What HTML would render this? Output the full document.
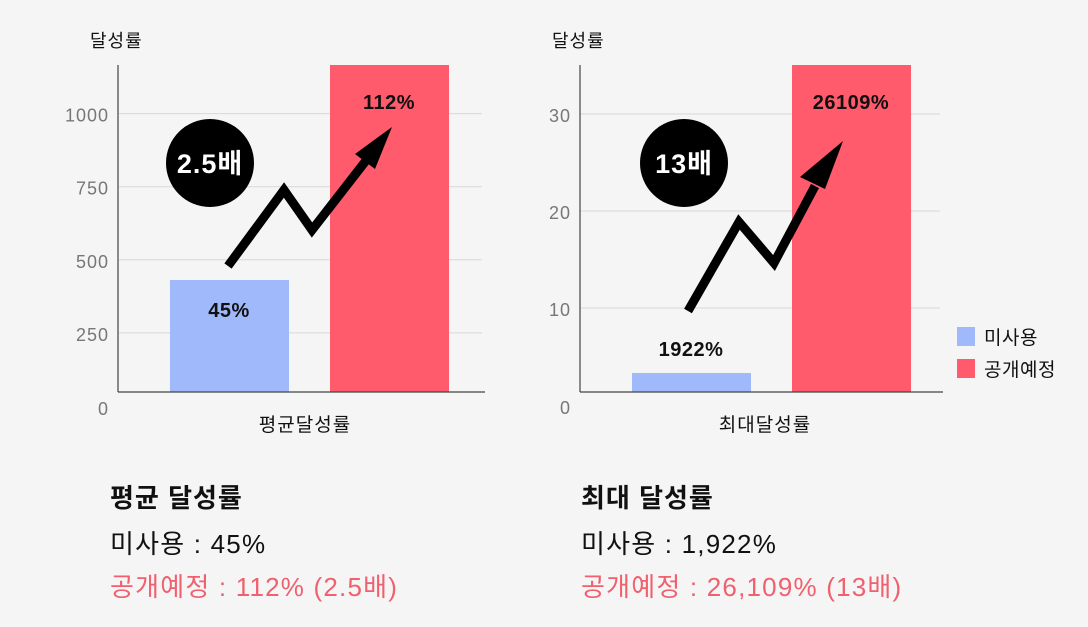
<!DOCTYPE html>
<html><head><meta charset="utf-8"><style>
body{margin:0;background:#f5f5f5;width:1088px;height:622px;overflow:hidden;font-family:"Liberation Sans","Noto Sans CJK KR",sans-serif;}
svg text{font-family:"Liberation Sans","Noto Sans CJK KR",sans-serif;}
</style></head><body>
<svg id="c" width="1088" height="622" xmlns="http://www.w3.org/2000/svg">
<rect width="1088" height="622" fill="#f5f5f5"/>
</svg>
<script>
const categories=["평균달성률","최대달성률"];
const seriesNames=["미사용","공개예정"];
const leftValues=[431,1200];
const rightValues=[3.3,40];
const leftTicks=[0,250,500,750,1000];
const rightTicks=[0,10,20,30];
const leftLabels=["45%","112%"];
const rightLabels=["1922%","26109%"];
const multipliers=["2.5배","13배"];
const NS="http://www.w3.org/2000/svg";
const svg=document.getElementById('c');
function mk(t,a,txt){const e=document.createElementNS(NS,t);for(const k in a)e.setAttribute(k,a[k]);if(txt!=null)e.textContent=txt;svg.appendChild(e);return e;}
const colors=["#a0b9fb","#ff5b6c"];
function panel(o){
  const y=v=>o.zeroY-v*o.k;
  const t=mk('text',{x:o.axisX-28,y:47,'font-size':18,'letter-spacing':1,fill:'#111'},'달성률');
  
  o.ticks.forEach(v=>{
    if(v>0){const g=mk('line',{x1:o.axisX,x2:o.right,y1:y(v),y2:y(v),stroke:'#d8d8d8','stroke-width':1});
    }
    const l=mk('text',{x:o.axisX-9,y:y(v)+8+(v===0?1:0),'text-anchor':'end','font-size':18,'letter-spacing':1,fill:'#777'},String(v));
    
  });
  o.values.forEach((v,i)=>{
    const top=Math.max(o.top,y(v));
    const b=mk('rect',{x:o.barX[i],y:top,width:119,height:o.base-top,fill:colors[i]});
    
  });
  mk('line',{x1:o.axisX,x2:o.axisX,y1:o.top,y2:o.base,stroke:'#444','stroke-width':1.2});
  mk('line',{x1:o.axisX,x2:o.right+3,y1:o.base,y2:o.base,stroke:'#444','stroke-width':1.2});
  o.labels.forEach((s,i)=>{
    const l=mk('text',{x:o.barX[i]+59,y:o.labelY[i],'text-anchor':'middle','font-size':20,'font-weight':'bold','letter-spacing':0.5,fill:'#111'},s);
    
  });
  const c=mk('text',{x:(o.axisX+o.right)/2+5,y:431,'text-anchor':'middle','font-size':19,'letter-spacing':1,fill:'#111'},o.cat);
  
  const ci=mk('circle',{cx:o.circ[0],cy:o.circ[1],r:44,fill:'#000'});
  
  mk('text',{x:o.circ[0],y:o.circ[1]+10,'text-anchor':'middle','font-size':27,'font-weight':'bold','letter-spacing':1,fill:'#fff'},o.mult);
  const p=mk('polyline',{points:o.arrow.map(q=>q.join(',')).join(' '),fill:'none',stroke:'#000','stroke-width':9,'stroke-linejoin':'miter'});
  
  mk('polygon',{points:o.head.map(q=>q.join(',')).join(' '),fill:'#000'});
}
panel({axisX:118,right:482,top:65,base:392,zeroY:406,k:0.2924,ticks:leftTicks,values:leftValues,barX:[170,330],labels:leftLabels,labelY:[317,109],cat:categories[0],circ:[210,163],mult:multipliers[0],
 arrow:[[228,266],[284,190],[312,230],[368,158]],head:[[392,127],[355,154],[375,169]]});
panel({axisX:580,right:940,top:65,base:392,zeroY:405,k:9.7,ticks:rightTicks,values:rightValues,barX:[632,792],labels:rightLabels,labelY:[356,109],cat:categories[1],circ:[684,163],mult:multipliers[1],
 arrow:[[688,311],[739,222],[774,263],[815,186]],head:[[843,141],[800,177],[825,189]]});
seriesNames.forEach((s,i)=>{
  const r=mk('rect',{x:957,y:327+i*32,width:18,height:19,fill:colors[i]});
  
  const t=mk('text',{x:984,y:344+i*32,'font-size':19,'letter-spacing':0.5,fill:'#111'},s);
  
});
const notes=[[110,"평균 달성률","미사용 : 45%","공개예정 : 112% (2.5배)"],[581,"최대 달성률","미사용 : 1,922%","공개예정 : 26,109% (13배)"]];
notes.forEach(n=>{
  const a=mk('text',{x:n[0],y:507,'font-size':26,'font-weight':'bold','letter-spacing':1,fill:'#111'},n[1]);
  
  const b=mk('text',{x:n[0],y:553,'font-size':26,'letter-spacing':1.2,fill:'#111'},n[2]);
  
  const c=mk('text',{x:n[0],y:596,'font-size':26,'letter-spacing':1.2,fill:'#f0606e'},n[3]);
  
});
</script>
</body></html>
